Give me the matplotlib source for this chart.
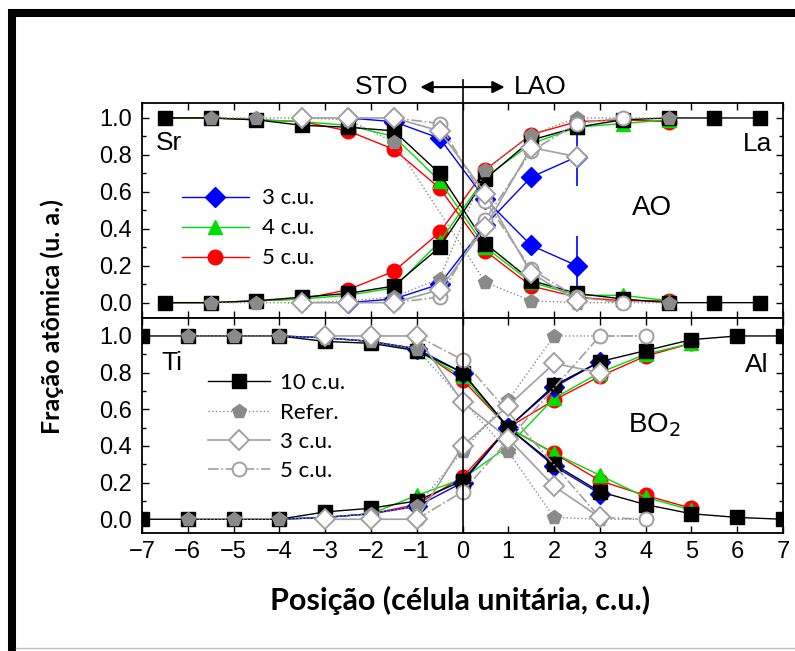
import numpy as np
import matplotlib.pyplot as plt
from matplotlib.patches import Rectangle
from matplotlib.lines import Line2D

# ---- AO planes (half-integer positions) ----
ao_x = [-6.5, -5.5, -4.5, -3.5, -2.5, -1.5, -0.5, 0.5, 1.5, 2.5, 3.5, 4.5, 5.5, 6.5]
sr_10 = [1.00, 1.00, 0.99, 0.96, 0.95, 0.93, 0.70, 0.32, 0.12, 0.05, 0.02, 0.00, 0.00, 0.00]
la_10 = [0.00, 0.00, 0.01, 0.03, 0.05, 0.09, 0.30, 0.67, 0.88, 0.95, 0.99, 1.00, 1.00, 1.00]

ao_col_x = [-6.5, -5.5, -4.5, -3.5, -2.5, -1.5, -0.5, 0.5, 1.5, 2.5, 3.5, 4.5]
sr_5 = [1.00, 1.00, 0.99, 0.98, 0.93, 0.83, 0.62, 0.28, 0.09, 0.03, 0.01, 0.01]
la_5 = [0.00, 0.00, 0.01, 0.02, 0.07, 0.17, 0.38, 0.72, 0.91, 0.98, 0.99, 0.98]
sr_4 = [1.00, 1.00, 0.99, 0.98, 0.96, 0.90, 0.66, 0.30, 0.11, 0.04, 0.04, 0.01]
la_4 = [0.00, 0.00, 0.01, 0.02, 0.04, 0.08, 0.33, 0.68, 0.86, 0.95, 0.97, 0.99]

ao_blue_x = [-2.5, -1.5, -0.5, 0.5, 1.5, 2.5]
sr_3 = [1.00, 0.98, 0.89, 0.56, 0.31, 0.20]
la_3 = [0.00, 0.02, 0.10, 0.42, 0.68, 0.79]
ao_err_3 = [0, 0, 0, 0, 0, 0.16]

ref_sr_x = [-5.5, -4.5, -3.5, -2.5, -1.5, 0.5, 1.5, 2.5, 3.5, 4.5]
ref_sr = [1.00, 1.00, 1.00, 0.99, 0.87, 0.11, 0.01, 0.00, 0.00, 0.00]
ref_la_x = [-5.5, -4.5, -3.5, -2.5, -1.5, -0.5, 0.5, 1.5, 2.5, 3.5, 4.5]
ref_la = [0.00, 0.00, 0.00, 0.01, 0.03, 0.13, 0.72, 0.91, 1.00, 1.00, 1.00]

d3_ao_x = [-3.5, -2.5, -1.5, -0.5, 0.5, 1.5, 2.5]
d3_sr = [1.00, 1.00, 1.00, 0.93, 0.59, 0.16, 0.01]
d3_la = [0.00, 0.00, 0.00, 0.07, 0.41, 0.84, 0.79]

c5_ao_x = [-1.5, -0.5, 0.5, 1.5, 2.5, 3.5]
c5_sr = [1.00, 0.97, 0.55, 0.18, 0.03, 0.00]
c5_la = [0.00, 0.03, 0.45, 0.82, 0.97, 1.00]

# ---- BO2 planes (integer positions) ----
bo_x = [-7, -6, -5, -4, -3, -2, -1, 0, 1, 2, 3, 4, 5, 6, 7]
ti_10 = [1.00, 1.00, 1.00, 1.00, 0.97, 0.96, 0.92, 0.80, 0.50, 0.30, 0.15, 0.08, 0.03, 0.01, 0.00]
al_10 = [0.00, 0.00, 0.00, 0.00, 0.04, 0.06, 0.10, 0.21, 0.50, 0.73, 0.86, 0.92, 0.98, 1.00, 1.00]

bo_col_x = [-4, -3, -2, -1, 0, 1, 2, 3, 4, 5]
ti_5 = [1.00, 0.99, 0.97, 0.93, 0.76, 0.50, 0.36, 0.21, 0.13, 0.06]
al_5 = [0.00, 0.01, 0.03, 0.08, 0.23, 0.50, 0.65, 0.78, 0.89, 0.96]
ti_4 = [1.00, 0.99, 0.97, 0.92, 0.78, 0.50, 0.36, 0.24, 0.12, 0.05]
al_4 = [0.00, 0.01, 0.03, 0.13, 0.22, 0.40, 0.66, 0.80, 0.90, 0.96]

bo_blue_x = [-4, -3, -2, -1, 0, 1, 2, 3]
ti_3 = [1.00, 0.99, 0.97, 0.93, 0.80, 0.50, 0.29, 0.14]
al_3 = [0.00, 0.01, 0.03, 0.07, 0.20, 0.50, 0.72, 0.86]

ref_bo_x = [-6, -5, -4, -3, -2, -1, 0, 1, 2, 3, 4]
ref_ti = [1.00, 1.00, 1.00, 0.99, 0.97, 0.93, 0.65, 0.37, 0.01, 0.00, 0.00]
ref_al = [0.00, 0.00, 0.00, 0.01, 0.03, 0.07, 0.37, 0.65, 1.00, 1.00, 1.00]

d3_bo_x = [-3, -2, -1, 0, 1, 2, 3]
d3_ti = [1.00, 1.00, 1.00, 0.64, 0.44, 0.18, 0.01]
d3_al = [0.00, 0.00, 0.00, 0.40, 0.62, 0.85, 0.80]

c5_bo_x = [-1, 0, 3, 4]
c5_ti = [1.00, 0.87, 0.01, 0.00]
c5_al = [0.00, 0.15, 1.00, 1.00]

W, H = 795, 651
fig = plt.figure(figsize=(W / 100, H / 100), dpi=100)
plt.rcParams['font.family'] = ['Liberation Sans', 'DejaVu Sans']

ax1 = fig.add_axes([142 / W, 1 - 318 / H, 641 / W, 215 / H])
ax2 = fig.add_axes([142 / W, 1 - 533 / H, 641 / W, 215 / H])

GRAY = '#8a8a8a'
LGRAY = '#a0a0a0'


def draw(ax, x10, a10, b10, xc, a5, b5, a4, b4, xb, a3, b3,
         xra, ra, xrb, rb, xd, da, db, xc5, ca, cb, col_from):
    xc = np.array(xc)
    xb = np.array(xb)
    mk = list(np.where(xc >= col_from)[0])
    mkb = list(np.where(xb >= col_from)[0])
    h = {}
    for y in (a5, b5):
        h['5'] = ax.plot(xc, y, '-o', color='red', lw=1.0, ms=10.5, mec='red',
                         markevery=mk, zorder=2)[0]
    for y in (a4, b4):
        h['4'] = ax.plot(xc, y, '-^', color='#00dd00', lw=1.0, ms=10, mec='#00dd00',
                         markevery=mk, zorder=2)[0]
    for y in (a3, b3):
        h['3'] = ax.plot(xb, y, '-D', color='blue', lw=1.0, ms=10, mec='blue',
                         markevery=mkb, zorder=2.5)[0]
    for y in (a10, b10):
        h['10'] = ax.plot(x10, y, '-s', color='black', lw=1.0, ms=9.5, zorder=3)[0]
    h['ref'] = ax.plot(xra, ra, ':p', color=GRAY, lw=1.0, ms=10.5, mfc=GRAY, mec=GRAY, zorder=3.2)[0]
    ax.plot(xrb, rb, ':p', color=GRAY, lw=1.0, ms=10.5, mfc=GRAY, mec=GRAY, zorder=3.2)
    for y in (da, db):
        h['d3'] = ax.plot(xd, y, '-D', color=LGRAY, lw=1.2, ms=10, mfc='white', mec=LGRAY,
                          mew=1.4, zorder=3.4)[0]
    for y in (ca, cb):
        h['c5'] = ax.plot(xc5, y, '-.o', color=LGRAY, lw=1.2, ms=10, mfc='white', mec=LGRAY,
                          mew=1.4, zorder=3.3)[0]
    return h


h1 = draw(ax1, ao_x, sr_10, la_10, ao_col_x, sr_5, la_5, sr_4, la_4, ao_blue_x, sr_3, la_3,
          ref_sr_x, ref_sr, ref_la_x, ref_la, d3_ao_x, d3_sr, d3_la, c5_ao_x, c5_sr, c5_la, -2.5)
ax1.errorbar(ao_blue_x, la_3, yerr=ao_err_3, fmt='none', ecolor='blue', lw=1.2, zorder=2.4)
ax1.errorbar(ao_blue_x, sr_3, yerr=ao_err_3, fmt='none', ecolor='blue', lw=1.2, zorder=2.4)

h2 = draw(ax2, bo_x, ti_10, al_10, bo_col_x, ti_5, al_5, ti_4, al_4, bo_blue_x, ti_3, al_3,
          ref_bo_x, ref_ti, ref_bo_x, ref_al, d3_bo_x, d3_ti, d3_al, c5_bo_x, c5_ti, c5_al, -1)

ax1.set_ylim(-0.083, 1.081)
ax2.set_ylim(-0.075, 1.098)
for ax in (ax1, ax2):
    ax.set_xlim(-7, 7)
    ax.set_xticks(range(-7, 8))
    ax.set_yticks(np.arange(0, 1.01, 0.2))
    ax.set_yticks(np.arange(0.1, 1.0, 0.2), minor=True)
    ax.yaxis.set_major_formatter(plt.FuncFormatter(lambda v, p: f'{v:.1f}'))
    ax.tick_params(which='both', direction='in', top=True, right=True, width=1.0)
    ax.tick_params(which='major', length=5, labelsize=17, pad=7)
    ax.tick_params(which='minor', length=3)
    for s in ax.spines.values():
        s.set_linewidth(1.3)
ax1.tick_params(axis='x', labelbottom=False)
ax2.xaxis.set_major_formatter(plt.FuncFormatter(lambda v, p: f'{int(v)}'.replace('-', '\u2212')))
ax2.tick_params(axis='x', pad=6)

# interface line
ax1.axvline(0, ymin=0, ymax=(318 - 80) / 215, color='black', lw=1.2, clip_on=False, zorder=5)
ax2.axvline(0, color='black', lw=1.2, zorder=5)

ax1.annotate('', xy=(0.92, 1.074), xytext=(-0.92, 1.074), xycoords=('data', 'axes fraction'),
             textcoords=('data', 'axes fraction'),
             arrowprops=dict(arrowstyle='<|-|>', color='black', lw=1.5, mutation_scale=18,
                             shrinkA=0, shrinkB=0))
ax1.text(-1.17, 1.074, 'STO', transform=ax1.get_xaxis_transform(), ha='right', va='center', fontsize=19)
ax1.text(1.13, 1.074, 'LAO', transform=ax1.get_xaxis_transform(), ha='left', va='center', fontsize=19)

ax1.text(0.022, 0.815, 'Sr', transform=ax1.transAxes, fontsize=19, va='center', ha='left')
ax1.text(0.983, 0.81, 'La', transform=ax1.transAxes, fontsize=19, va='center', ha='right')
ax1.text(0.795, 0.51, 'AO', transform=ax1.transAxes, fontsize=20, va='center', ha='center')
ax2.text(0.03, 0.79, 'Ti', transform=ax2.transAxes, fontsize=19, va='center', ha='left')
ax2.text(0.977, 0.78, 'Al', transform=ax2.transAxes, fontsize=19, va='center', ha='right')
ax2.text(0.8, 0.5, 'BO$_2$', transform=ax2.transAxes, fontsize=20, va='center', ha='center')

lprop = dict(family='Lato', size=16)
ax1.legend([h1['3'], h1['4'], h1['5']], ['3 c.u.', '4 c.u.', '5 c.u.'],
           loc='upper left', bbox_to_anchor=(0.045, 0.655), frameon=False, prop=lprop,
           handlelength=3.0, handletextpad=0.6, labelspacing=0.45, borderpad=0)
ax2.legend([h2['10'], h2['ref'], h2['d3'], h2['c5']], ['10 c.u.', 'Refer.', '3 c.u.', '5 c.u.'],
           loc='upper left', bbox_to_anchor=(0.085, 0.795), frameon=False, prop=lprop,
           handlelength=2.8, handletextpad=0.45, labelspacing=0.42, borderpad=0)

fig.text(460 / W, 1 - 600 / H, 'Posição (célula unitária, c.u.)', ha='center', va='center',
         fontsize=22, fontweight='bold', family='Lato')
fig.text(52 / W, 1 - 317 / H, 'Fração atômica (u. a.)', ha='center', va='center',
         rotation=90, fontsize=18, fontweight='bold', family='Lato')

# outer frame
fig.patches.append(Rectangle((12 / W, -0.1), 1.2, (H - 12.5) / H + 0.1, transform=fig.transFigure,
                             fill=False, lw=5.8, ec='black'))
fig.add_artist(Line2D([16 / W, 1], [1 - 648 / H] * 2, color='#c0c0c0', lw=1))

fig.savefig('out.png', dpi=100)
